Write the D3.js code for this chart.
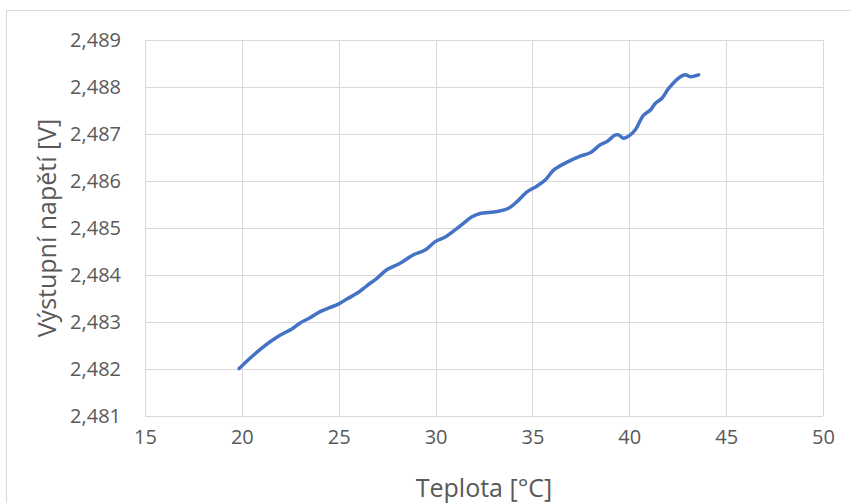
<!DOCTYPE html>
<html>
<head>
<meta charset="utf-8">
<script src="https://cdn.jsdelivr.net/npm/d3@7"></script>
<style>
  html, body { margin: 0; padding: 0; background: #fff; }
  svg { display: block; }
  text { font-family: "Open Sans", "Noto Sans", sans-serif; fill: #595959; }
</style>
</head>
<body>
<script>
// Measured output voltage versus temperature
const temperature = [
  19.86, 20.42, 21.11, 21.46, 21.97, 22.58, 23.01, 23.52, 24.04, 24.56,
  24.98, 25.42, 25.94, 26.45, 26.97, 27.48, 28.17, 28.86, 29.46, 29.98,
  30.50, 31.01, 31.44, 31.88, 32.30, 33.17, 33.77, 34.20, 34.72, 35.23,
  35.66, 36.09, 36.69, 37.47, 37.98, 38.50, 38.85, 39.28, 39.45, 39.71,
  40.05, 40.31, 40.74, 41.09, 41.34, 41.69, 42.03, 42.64, 42.90, 43.15,
  43.58
];
const voltage = [
  2.48201, 2.48223, 2.48247, 2.48258, 2.48272, 2.48285, 2.48298, 2.48309, 2.48322, 2.48331,
  2.48338, 2.48349, 2.48361, 2.48377, 2.48393, 2.48411, 2.48425, 2.48443, 2.48453, 2.48471,
  2.48481, 2.48496, 2.48510, 2.48524, 2.48531, 2.48535, 2.48542, 2.48556, 2.48577, 2.48589,
  2.48602, 2.48623, 2.48638, 2.48653, 2.48660, 2.48677, 2.48684, 2.48698, 2.48698, 2.48691,
  2.48698, 2.48709, 2.48740, 2.48751, 2.48765, 2.48776, 2.48797, 2.48822, 2.48826, 2.48822,
  2.48826
];
const xTicks = [15, 20, 25, 30, 35, 40, 45, 50];
const yTicks = [2.481, 2.482, 2.483, 2.484, 2.485, 2.486, 2.487, 2.488, 2.489];
const xTitle = "Teplota [°C]";
const yTitle = "Výstupní napětí [V]";

const W = 851, H = 503;
const plot = { left: 145, right: 823, top: 40, bottom: 416 };

const svg = d3.select("body").append("svg").attr("width", W).attr("height", H);

// outer chart frame
svg.append("rect")
  .attr("x", 6.5).attr("y", 10.5)
  .attr("width", 860).attr("height", 510)
  .attr("fill", "none").attr("stroke", "#D9D9D9").attr("stroke-width", 1);

const x = d3.scaleLinear().domain([15, 50]).range([plot.left, plot.right]);
const y = d3.scaleLinear().domain([2.481, 2.489]).range([plot.bottom, plot.top]);

const fmt = v => d3.format(".3f")(v).replace(".", ",");

// vertical gridlines + x tick labels
const xAxis = d3.axisBottom(x).tickValues(xTicks).tickSize(-(plot.bottom - plot.top)).tickPadding(14)
  .tickFormat(d3.format("d"));
const gx = svg.append("g").attr("transform", `translate(0,${plot.bottom})`).call(xAxis);
gx.select(".domain").remove();
gx.selectAll("line").attr("stroke", "#D9D9D9").attr("shape-rendering", "crispEdges");
gx.selectAll("text").attr("font-size", 20).attr("fill", "#595959")
  .attr("font-family", "'Open Sans', sans-serif");

// horizontal gridlines + y tick labels
const yAxis = d3.axisLeft(y).tickValues(yTicks).tickSize(-(plot.right - plot.left)).tickPadding(24)
  .tickFormat(fmt);
const gy = svg.append("g").attr("transform", `translate(${plot.left},0)`).call(yAxis);
gy.select(".domain").remove();
gy.selectAll("line").attr("stroke", "#D9D9D9").attr("shape-rendering", "crispEdges");
gy.selectAll("text").attr("font-size", 20).attr("fill", "#595959")
  .attr("font-family", "'Open Sans', sans-serif");

// data line
const pts = temperature.map((t, i) => [t, voltage[i]]);
const line = d3.line().x(d => x(d[0])).y(d => y(d[1])).curve(d3.curveCatmullRom.alpha(0.5));
svg.append("path").datum(pts)
  .attr("d", line)
  .attr("fill", "none")
  .attr("stroke", "#4472C4")
  .attr("stroke-width", 3.5)
  .attr("stroke-linejoin", "round")
  .attr("stroke-linecap", "round");

// axis titles
svg.append("text")
  .attr("x", (plot.left + plot.right) / 2).attr("y", 497)
  .attr("text-anchor", "middle").attr("font-size", 25)
  .text(xTitle);

svg.append("text")
  .attr("transform", `translate(56,${(plot.top + plot.bottom) / 2}) rotate(-90)`)
  .attr("text-anchor", "middle").attr("font-size", 25)
  .text(yTitle);
</script>
</body>
</html>
